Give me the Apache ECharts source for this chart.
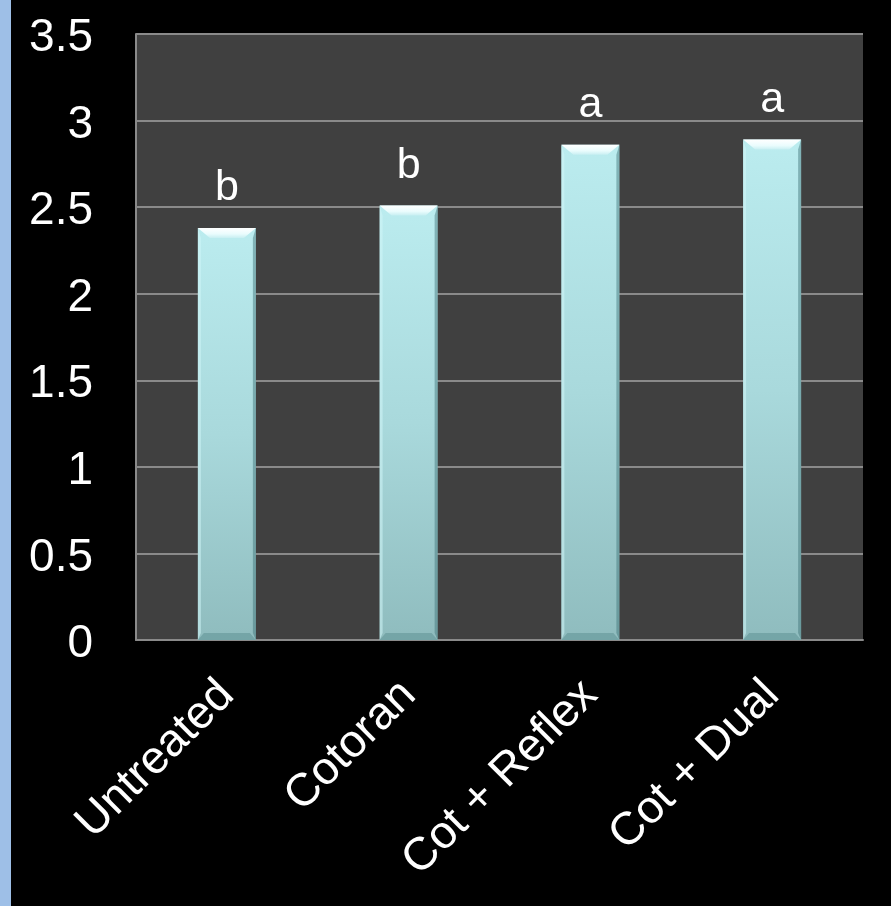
<!DOCTYPE html>
<html>
<head>
<meta charset="utf-8">
<style>
html,body{margin:0;padding:0;background:#000;}
#chart{width:891px;height:906px;}
</style>
<script src="https://cdn.jsdelivr.net/npm/echarts@6/dist/echarts.min.js"></script>
</head>
<body>
<div id="chart"></div>
<script>
const categories = ['Untreated', 'Cotoran', 'Cot + Reflex', 'Cot + Dual'];
const values = [2.38, 2.51, 2.86, 2.89];
const letters = ['b', 'b', 'a', 'a'];
const yMin = 0, yMax = 3.5, yStep = 0.5;

const BAR_W = 58;
const chart = echarts.init(document.getElementById('chart'));
const font = '"Liberation Sans", Arial, sans-serif';
const G = echarts.graphic;

function bevel(params, api) {
  const top = api.coord([api.value(0), api.value(1)]);
  const base = api.coord([api.value(0), 0]);
  const w = BAR_W, l = top[0] - w / 2, r = l + w, t = top[1], b = base[1];
  const tb = 10, ti = 12, sb = 3, bb = 7, bi = 6;
  return {
    type: 'group',
    children: [
      {type: 'polygon', shape: {points: [[l, t], [r, t], [r - ti, t + tb], [l + ti, t + tb]]},
        style: {fill: new G.LinearGradient(0, 0, 0, 1, [
          {offset: 0, color: '#ffffff'}, {offset: 0.6, color: '#eafcfd'}, {offset: 1, color: '#c8eff2'}])}},
      {type: 'polygon', shape: {points: [[l, t], [l + sb, t + tb], [l + sb, b - bb], [l, b]]},
        style: {fill: 'rgba(210,245,248,0.55)'}},
      {type: 'polygon', shape: {points: [[r, t], [r - sb, t + tb], [r - sb, b - bb], [r, b]]},
        style: {fill: 'rgba(60,110,115,0.45)'}},
      {type: 'polygon', shape: {points: [[l, b], [r, b], [r - bi, b - bb], [l + bi, b - bb]]},
        style: {fill: 'rgba(95,145,148,0.55)'}}
    ]
  };
}

chart.setOption({
  backgroundColor: '#000000',
  animation: false,
  graphic: [{
    type: 'rect', left: 0, top: 0, z: 10,
    shape: {width: 11, height: 906},
    style: {fill: '#9ebfe7'}
  }],
  grid: {left: 136, right: 28, top: 34, bottom: 266, show: true, backgroundColor: '#404040', borderWidth: 0},
  xAxis: {
    type: 'category',
    data: categories,
    axisLine: {show: true, lineStyle: {color: '#8a8a8a', width: 2}},
    axisTick: {show: false},
    axisLabel: {color: '#ffffff', fontSize: 46, fontFamily: font, rotate: 45, margin: 48, interval: 0}
  },
  yAxis: {
    type: 'value', min: yMin, max: yMax, interval: yStep,
    axisLine: {show: true, lineStyle: {color: '#8a8a8a', width: 2}},
    axisTick: {show: false},
    splitLine: {show: true, lineStyle: {color: '#8a8a8a', width: 2}},
    axisLabel: {
      color: '#ffffff', fontSize: 46, fontFamily: font, margin: 43,
      formatter: v => '{v|' + v + '}',
      rich: {v: {color: '#ffffff', fontSize: 46, fontFamily: font, padding: [9, 0, 0, 0]}}
    }
  },
  series: [{
    type: 'bar',
    data: values.map((v, i) => ({value: v, label: {formatter: letters[i]}})),
    barWidth: BAR_W,
    itemStyle: {
      color: new G.LinearGradient(0, 0, 0, 1, [
        {offset: 0, color: '#bbecef'},
        {offset: 0.5, color: '#a9d9dc'},
        {offset: 1, color: '#8fbcbe'}
      ])
    },
    label: {show: true, position: 'top', distance: 18, color: '#ffffff', fontSize: 43, fontFamily: font}
  }, {
    type: 'custom',
    renderItem: bevel,
    data: values.map((v, i) => [i, v]),
    z: 3,
    silent: true
  }]
});
</script>
</body>
</html>
